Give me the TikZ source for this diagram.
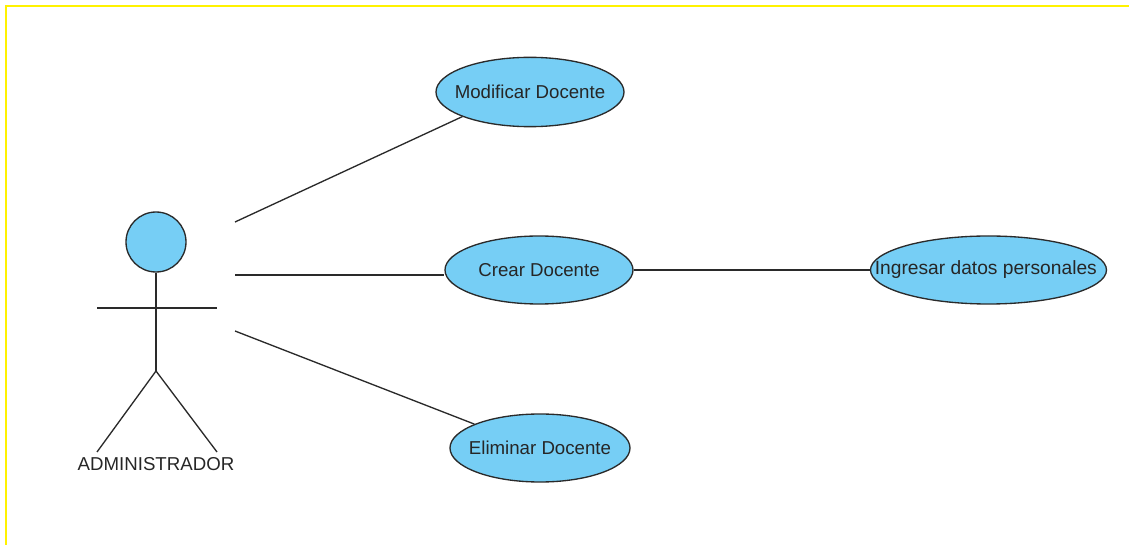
\documentclass[tikz,border=0pt]{standalone}
\usepackage{fontspec}
\setmainfont{Liberation Sans}
\usetikzlibrary{shapes.geometric}
\definecolor{casefill}{HTML}{76CEF5}
\definecolor{caseline}{HTML}{2A2A2A}
\newcommand{\casetext}[1]{\makebox[0pt]{#1}}

\begin{document}
\begin{tikzpicture}[x=0.75pt,y=-0.75pt,
    usecase/.style={ellipse,draw=caseline,fill=casefill,line width=1pt,inner sep=0pt,font=\fontsize{14}{16}\selectfont,text=black!85},
    link/.style={draw=caseline,line width=1pt}]
    \useasboundingbox (0,0) rectangle (1129,545);
    \draw[yellow,line width=1.5pt] (1129,6.5) -- (6,6.5) -- (6,545);

    \node[usecase,minimum width=141pt,minimum height=52pt] (mod) at (530,92) {\casetext{Modificar Docente}};
    \node[usecase,minimum width=141pt,minimum height=51pt] (cre) at (539,270) {\casetext{Crear Docente}};
    \node[usecase,minimum width=177pt,minimum height=51pt,font=\fontsize{14.4}{16}\selectfont] (ing) at (988.5,270) {\casetext{\kern-4pt Ingresar datos personales}};
    \node[usecase,minimum width=135pt,minimum height=51pt] (eli) at (540,448) {\casetext{Eliminar Docente}};

    % actor
    \node[circle,draw=caseline,fill=casefill,line width=1pt,inner sep=0pt,minimum size=45pt] (head) at (156,242) {};
    \coordinate (handl) at (97,308);
    \coordinate (handr) at (217,308);
    \coordinate (hip) at (156,371);
    \coordinate (footl) at (97,452);
    \coordinate (footr) at (217,452);
    \node[font=\fontsize{14}{16}\selectfont,text=black!85,inner sep=0pt] (admin) at (156,464.5) {ADMINISTRADOR};
    \path[link] (head) -- (hip);
    \path[link] (handl) -- (handr);
    \path[link] (footl) -- (hip) -- (footr);

    \coordinate (a) at (235,222);
    \coordinate (b) at (235,275);
    \coordinate (c) at (235,331);
    \path[link] (a) -- (mod.200);
    \path[link] (b) -- (cre.west |- b);
    \path[link] (c) -- (eli.160);
    \path[link] (cre.east) -- (ing.west);
\end{tikzpicture}
\end{document}
